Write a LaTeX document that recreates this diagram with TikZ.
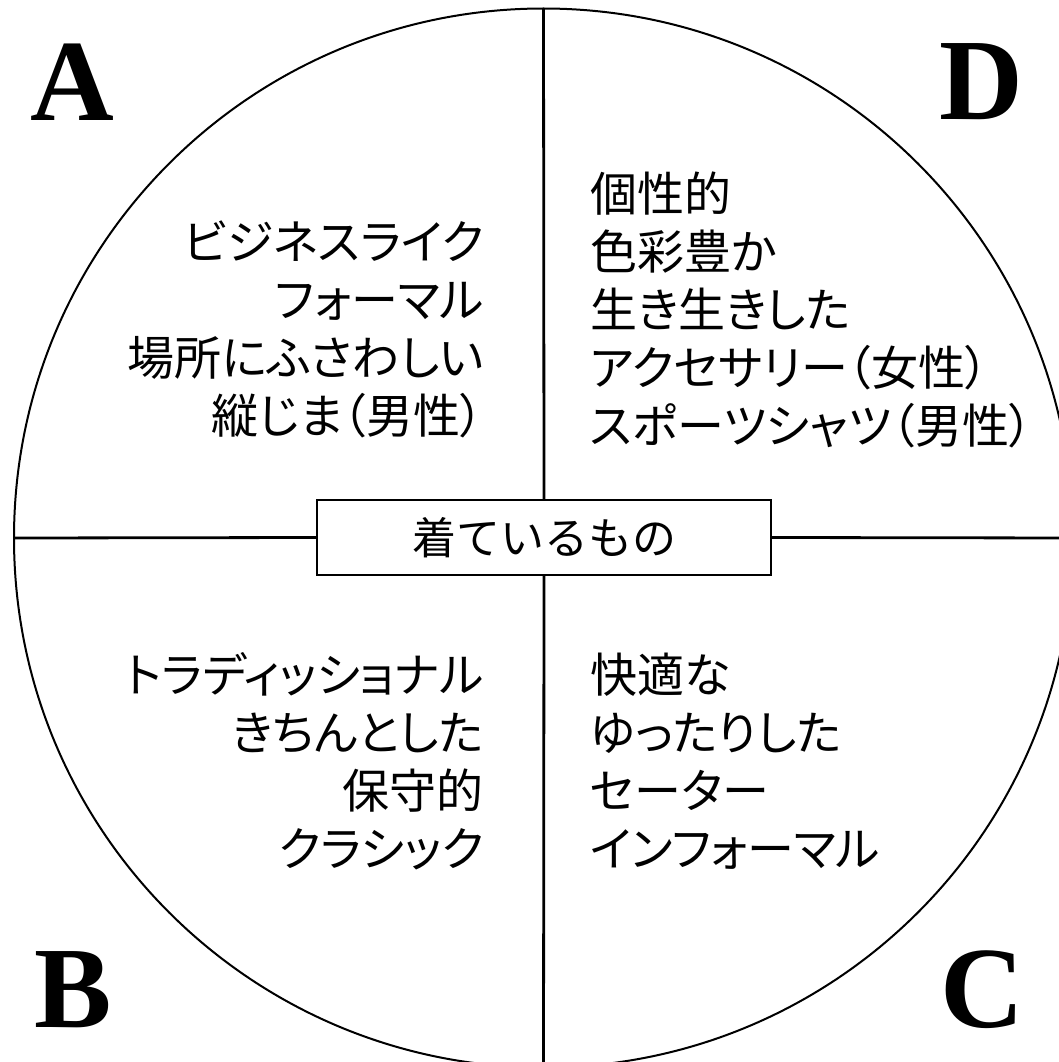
\documentclass[tikz,border=0pt]{standalone}
\usepackage{fontspec}
\newfontfamily\jpfont{Noto Sans CJK JP}
\newfontfamily\jppfont[RawFeature=+palt]{Noto Sans CJK JP}
\newfontfamily\letterfont{Liberation Serif}
\begin{document}
\begin{tikzpicture}[x=1pt,y=-1pt,
  quadtext/.style={font=\jppfont\fontsize{47}{58}\selectfont, inner sep=0pt},
  corner/.style={font=\letterfont\bfseries\fontsize{116}{116}\selectfont, inner sep=0pt},
  centerbox/.style={draw, line width=2pt, fill=white, minimum width=454pt, minimum height=75pt, inner sep=0pt, font=\jpfont\fontsize{44}{44}\selectfont},
  axis/.style={line width=2.8pt},
  rim/.style={line width=2pt}]
\useasboundingbox (0,0) rectangle (1059,1062);
\clip (0,0) rectangle (1059,1062);
% circle
\draw[rim] (543.5,538) circle (529.5);
% end points of the cross
\coordinate (top) at (543.5,8.5);
\coordinate (bottom) at (543.5,1075);
\coordinate (left) at (14,538);
\coordinate (right) at (1080,538);
% centre box
\node[centerbox] (box) at (544,537.5) {着ているもの};
\draw[axis] (top) -- (box.north);
\draw[axis] (box.south) -- (bottom);
\draw[axis] (left) -- (box.west);
\draw[axis] (box.east) -- (right);
% quadrant texts
\node[quadtext, align=right, anchor=east] (qa) at (484,329) {ビジネスライク\\フォーマル\\場所にふさわしい\\縦じま（男性）};
\node[quadtext, align=left, anchor=west] (qd) at (590,310) {個性的\\色彩豊か\\生き生きした\\アクセサリー（女性）\\スポーツシャツ（男性）};
\node[quadtext, align=right, anchor=east] (qb) at (484,761) {トラディッショナル\\きちんとした\\保守的\\クラシック};
\node[quadtext, align=left, anchor=west] (qc) at (590,761) {快適な\\ゆったりした\\セーター\\インフォーマル};
% corner letters
\node[corner] (la) at (72.5,82) {A};
\node[corner] (lb) at (73.5,989.5) {B};
\node[corner] (lc) at (982,989.5) {C};
\node[corner] (ld) at (981,82) {D};
\end{tikzpicture}
\end{document}
